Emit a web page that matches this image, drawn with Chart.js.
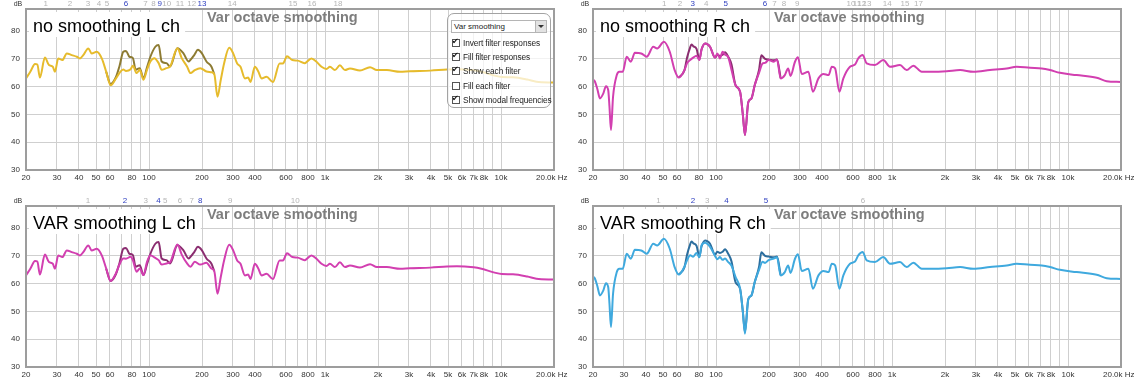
<!DOCTYPE html>
<html>
<head>
<meta charset="utf-8">
<script src="https://cdn.jsdelivr.net/npm/chart.js@4.4.0/dist/chart.umd.min.js"></script>
<style>
body { margin: 0; background: #fff; width: 1134px; height: 382px; overflow: hidden; position: relative; font-family: "Liberation Sans", Arial, sans-serif; }
canvas { position: absolute; }
#tl { left: 0; top: 0; }
#tr { left: 567px; top: 0; }
#bl { left: 0; top: 190px; }
#br { left: 567px; top: 190px; }
#filt { position: absolute; left: 447px; top: 13px; width: 102px; height: 93px; border: 1.5px solid #a3a3a3; border-radius: 7px; background: rgba(255,255,255,0.72); font-size: 8.3px; color: #222; }
#filt .sel { position: absolute; left: 3px; top: 6px; width: 96px; height: 13px; border: 1px solid #b5b5b5; background: #fff; line-height: 12px; padding-left: 2px; box-sizing: border-box; font-size: 8px; }
#filt .arr { position: absolute; right: 0; top: 0; width: 10px; height: 11px; background: #e2e2e2; border-left: 1px solid #b5b5b5; }
#filt .arr::after { content: ''; position: absolute; left: 2px; top: 4px; border-left: 3px solid transparent; border-right: 3px solid transparent; border-top: 3px solid #333; }
#filt .row { position: absolute; left: 4px; height: 10px; line-height: 10px; white-space: nowrap; letter-spacing: -0.1px; }
#filt .cb { display: inline-block; width: 6px; height: 6px; border: 1px solid #555; background: #fff; margin-right: 3px; vertical-align: -1px; position: relative; }
#filt .cb.on::after { content: '\2714'; position: absolute; left: -1px; top: -3px; font-size: 8px; line-height: 10px; color: #111; font-family: "DejaVu Sans", sans-serif; }
</style>
</head>
<body>
<canvas id="tl" width="580" height="190"></canvas>
<canvas id="tr" width="567" height="190"></canvas>
<canvas id="bl" width="580" height="192"></canvas>
<canvas id="br" width="567" height="192"></canvas>

<div id="filt">
  <div class="sel">Var smoothing<span class="arr"></span></div>
  <div class="row" style="top:24px"><span class="cb on"></span>Invert filter responses</div>
  <div class="row" style="top:38px"><span class="cb on"></span>Fill filter responses</div>
  <div class="row" style="top:52px"><span class="cb on"></span>Show each filter</div>
  <div class="row" style="top:66.5px"><span class="cb"></span>Fill each filter</div>
  <div class="row" style="top:80.5px"><span class="cb on"></span>Show modal frequencies</div>
</div>

<script>
// ejes
const xGrid = [20, 30, 40, 50, 60, 70, 80, 90, 100, 200, 300, 400, 500, 600, 700, 800, 900,
    1000, 2000, 3000, 4000, 5000, 6000, 7000, 8000, 9000, 10000, 20000];
const xLabelVals = [20, 30, 40, 50, 60, 80, 100, 200, 300, 400, 600, 800, 1000, 2000, 3000, 4000, 5000, 6000, 7000, 8000, 10000, 20000];
const xLabelTxt = ['20', '30', '40', '50', '60', '80', '100', '200', '300', '400', '600', '800', '1k', '2k', '3k', '4k', '5k', '6k', '7k', '8k', '10k', '20.0k Hz'];
const yTicks = [30, 40, 50, 60, 70, 80];

// canal L (Hz / dB)
const freqL = [
    20, 21.2, 22.5, 23.2, 24.0, 25.6, 27.0, 28.4, 29.2, 30.5,
    32.2, 34.1, 36.4, 38.9, 40.5, 42.3, 45.2, 47.2, 50.5, 53.9,
    57.1, 60.5, 64.9, 68, 71.4, 74, 78.6, 81, 85, 88.6,
    93, 97.4, 101.8, 107.2, 113.4, 118, 125.5, 131.8, 145, 153.4,
    164.5, 172, 182, 195.5, 212, 226, 235, 245, 255.6, 267,
    285.6, 300.8, 316.8, 331, 351, 366, 377, 399.5, 417, 436,
    465, 506, 552, 577, 608, 652, 700, 766, 837, 894,
    955, 1020, 1066, 1138, 1215, 1298, 1386, 1580, 1802, 1970,
    2245, 2670, 3030, 3968, 4933, 5622, 6990, 7640, 9200, 10100,
    11700, 14100, 15900, 20000
];
const noSmL = [
    63.0, 65.5, 68.2, 68.0, 63.3, 70.5, 67.8, 67.2, 65.4, 70.2,
    69.6, 72.0, 71.4, 70.8, 70.2, 71.4, 73.8, 72.0, 72.6, 70.2,
    65.4, 60.5, 63.0, 65.0, 66.2, 65.7, 66.3, 67.6, 64.9, 66.1,
    62.5, 66.1, 69.1, 70.3, 68.5, 66.1, 66.7, 67.3, 73.9, 70.3,
    67.3, 64.9, 66.0, 66.7, 65.5, 65.2, 64.5, 56.4, 62.4, 68.4,
    74.0, 72.0, 68.4, 67.2, 63.0, 63.3, 61.7, 67.2, 65.6, 63.0,
    63.6, 61.7, 68.4, 68.4, 71.0, 69.6, 69.4, 68.5, 70.2, 69.0,
    67.2, 66.4, 67.2, 66.0, 67.7, 66.0, 66.6, 65.8, 67.0, 66.0,
    66.0, 65.4, 65.6, 65.8, 66.2, 66.3, 65.9, 65.5, 64.0, 63.5,
    63.4, 62.6, 61.8, 61.5
];
const varL = [
    63.0, 65.5, 68.2, 68.0, 63.3, 70.5, 67.8, 67.2, 65.4, 70.2,
    69.6, 72.0, 71.4, 70.8, 70.2, 71.4, 73.8, 72.0, 72.6, 70.2,
    65.5, 61.0, 63.8, 67.0, 69.1, 69.0, 69.7, 68.4, 64.3, 65.5,
    63.1, 67.9, 70.3, 69.5, 68.5, 66.9, 67.3, 67.8, 74.1, 70.5,
    67.3, 66.1, 67.9, 66.9, 67.6, 65.5, 64.5, 56.4, 62.4, 68.4,
    74.0, 72.0, 68.4, 67.2, 63.0, 63.3, 61.7, 67.2, 65.6, 63.0,
    63.6, 61.7, 68.4, 68.4, 71.0, 69.6, 69.4, 68.5, 70.2, 69.0,
    67.2, 66.4, 67.2, 66.0, 67.7, 66.0, 66.6, 65.8, 67.0, 66.0,
    66.0, 65.4, 65.6, 65.8, 66.2, 66.3, 65.9, 65.5, 64.0, 63.5,
    63.4, 62.6, 61.8, 61.5
];
const freqLd = [57.1, 60.5, 64.9, 68, 71.4, 74, 77.4, 81, 84, 88.6, 93, 97.4, 101.8, 108.6,
    113.4, 118, 125.5, 131.8, 145, 156.6, 167.7, 172, 181, 189.6, 199.4, 212, 226, 235];
const darkL = [65.4, 61.0, 63.5, 67.5, 72.6, 72.9, 70.8, 70.3, 66.1, 66.7, 63.1, 67.0, 70.8, 74.4,
    75.0, 69.1, 68.5, 67.3, 73.9, 72.1, 69.1, 69.7, 71.5, 73.3, 72.1, 69.1, 67.3, 64.5];

// canal R (Hz / dB)
const freqR = [
    20, 20.5, 21.2, 21.9, 22.9, 23.7, 24.4, 24.8, 25.3, 26.0,
    27.3, 28.2, 29.5, 31.1, 32.8, 34.6, 37.6, 40.4, 44.0, 46.3,
    50.6, 54.6, 58.2, 61.5, 66.2, 68.5, 71.3, 74.2, 77.5, 80.4,
    82.8, 86.7, 92.5, 98.7, 101.7, 105.3, 109, 112.5, 117, 122.5,
    129, 137, 142, 146, 152.5, 159, 166, 175.5, 184, 190,
    199, 213, 222, 233, 246, 257, 265, 281, 292, 307,
    335, 355, 382, 408, 436, 455, 475, 502, 529, 577,
    616, 643, 681, 718, 800, 892, 974, 1110, 1211, 1321,
    1475, 1680, 2046, 2434, 2896, 3600, 4485, 5110, 6080, 7090,
    7910, 9000, 11200, 14550, 16590, 20000
];
const noSmR = [
    62.6, 61.9, 59.0, 55.8, 57.6, 60.2, 58.8, 53.0, 44.4, 56.4,
    64.2, 65.4, 65.4, 70.8, 69.0, 72.2, 72.0, 70.8, 74.4, 73.8,
    76.2, 72.6, 66.0, 63.3, 66.0, 68.5, 69.6, 70.5, 71.2, 69.6,
    73.5, 75.6, 74.4, 70.5, 72.0, 70.2, 72.6, 71.5, 70.8, 66.0,
    60.6, 58.2, 50.0, 42.6, 54.4, 55.8, 60.6, 65.0, 68.4, 68.6,
    69.6, 69.0, 69.8, 63.0, 64.2, 66.6, 63.9, 69.0, 70.6, 64.6,
    65.4, 58.2, 63.0, 64.6, 64.2, 67.2, 66.6, 58.2, 63.0, 67.2,
    68.0, 70.2, 71.4, 68.4, 67.8, 69.6, 67.2, 67.8, 66.0, 67.6,
    65.4, 65.4, 65.6, 66.0, 65.4, 66.0, 66.6, 67.2, 66.8, 66.6,
    66.0, 65.0, 64.2, 63.2, 62.0, 61.7
];
const varR = [
    62.6, 61.9, 59.0, 55.8, 57.6, 60.2, 58.8, 53.0, 44.4, 56.4,
    64.2, 65.4, 65.4, 70.8, 69.0, 72.2, 72.0, 70.8, 74.4, 73.8,
    76.2, 72.6, 66.0, 63.3, 66.2, 68.5, 70.3, 69.7, 71.1, 69.5,
    73.9, 74.8, 73.3, 70.0, 68.8, 69.6, 68.6, 69.1, 67.9, 66.5,
    62.5, 58.2, 50.0, 42.0, 54.4, 55.8, 60.6, 65.0, 67.9, 67.5,
    68.5, 69.1, 69.5, 63.0, 64.2, 66.6, 63.9, 69.0, 70.6, 64.6,
    65.4, 58.2, 63.0, 64.6, 64.2, 67.2, 66.6, 58.2, 63.0, 67.2,
    68.0, 70.2, 71.4, 68.4, 67.8, 69.6, 67.2, 67.8, 66.0, 67.6,
    65.4, 65.4, 65.6, 66.0, 65.4, 66.0, 66.6, 67.2, 66.8, 66.6,
    66.0, 65.0, 64.2, 63.2, 62.0, 61.7
];
const freqRd = [61.5, 66.2, 68.5, 71.3, 72.5, 74.2, 77.5, 80.4, 82.8, 86.7, 92.5, 98.7, 101.7, 105.3,
    109, 112.5, 117, 122.5, 129, 137, 142, 146, 152.5, 159, 166, 175.5, 181, 184, 190, 199, 213, 222, 233];
const darkR = [63.3, 66.0, 70.5, 74.2, 75.2, 74.6, 73.6, 69.8, 73.5, 75.6, 74.4, 70.5, 71.5, 71.1,
    71.5, 72.4, 70.9, 68.0, 60.6, 58.2, 50.0, 42.6, 54.4, 55.8, 60.6, 66.0, 71.3, 71.0, 70.0, 69.8, 69.5, 69.8, 63.0];

// frecuencias modales (arriba del grafico)
const modeTL = [25.9, 35.6, 45.0, 52.0, 57.7, 74.0, 95.5, 106, 115, 126, 150, 175, 200, 297, 658, 843, 1186];
const modeNumTL = ['1', '2', '3', '4', '5', '6', '7', '8', '9', '10', '11', '12', '13', '14', '15', '16', '18'];
const modeBlueTL = ['6', '9', '13'];
const modeTR = [50.7, 62.5, 73.7, 87.9, 113.7, 189.8, 214.5, 243.5, 289, 584, 632, 674, 720, 939, 1186, 1414];
const modeNumTR = ['1', '2', '3', '4', '5', '6', '7', '8', '9', '10', '11', '12', '13', '14', '15', '17'];
const modeBlueTR = ['3', '5', '6'];
const modeBL = [45.0, 73.0, 95.8, 113, 123.5, 150, 175, 195.5, 289, 678];
const modeNumBL = ['1', '2', '3', '4', '5', '6', '7', '8', '9', '10'];
const modeBlueBL = ['2', '4', '8'];
const modeBR = [47.1, 74.0, 89.0, 114.5, 192.5, 683];
const modeNumBR = ['1', '2', '3', '4', '5', '6'];
const modeBlueBR = ['2', '4', '5'];

Chart.defaults.font.family = '"Liberation Sans", Arial, sans-serif';

const pts = (fs, vs) => fs.map((f, i) => ({ x: f, y: vs[i] }));
const lastIdx = xLabelVals.length - 1;

// marco, titulo, etiqueta, modos y la ultima etiqueta del eje x
const rewDecor = {
    id: 'rewDecor',
    afterDraw(chart, args, opts) {
        const { ctx, chartArea: a, scales: { x } } = chart;
        ctx.save();
        ctx.strokeStyle = '#9d9d9d';
        ctx.lineWidth = 2;
        ctx.strokeRect(a.left, a.top, a.right - a.left, a.bottom - a.top);

        ctx.fillStyle = '#333';
        ctx.font = '7px "Liberation Sans", Arial';
        ctx.textAlign = 'center';
        ctx.textBaseline = 'middle';
        ctx.fillText('dB', a.left - 8, a.top - 5);

        ctx.font = '8px "Liberation Sans", Arial';
        opts.modes.forEach((f, i) => {
            const n = opts.nums[i];
            ctx.fillStyle = opts.blue.includes(n) ? '#3040c0' : '#b5b5b5';
            ctx.fillText(n, x.getPixelForValue(f), a.top - 5);
        });

        // "20.0k Hz" empieza un poco antes del borde derecho
        ctx.fillStyle = '#333';
        ctx.textAlign = 'left';
        ctx.fillText(xLabelTxt[lastIdx], x.getPixelForValue(xLabelVals[lastIdx]) - 18, a.bottom + 8);

        ctx.fillStyle = '#7e7e7e';
        ctx.font = 'bold 14.5px "Liberation Sans", Arial';
        ctx.fillText('Var octave smoothing', a.left + 181, a.top + 9);

        ctx.font = '18px "Liberation Sans", Arial';
        const w = ctx.measureText(opts.label).width;
        ctx.fillStyle = '#fff';
        ctx.fillRect(a.left + 3, a.top + 3, w + 9, 25);
        ctx.fillStyle = '#000';
        ctx.textBaseline = 'alphabetic';
        ctx.fillText(opts.label, a.left + 7, a.top + 23);
        ctx.restore();
    }
};

function makePanel(id, padTop, padRight, axisH, light, lightColor, dark, darkColor, label, modes, nums, blue) {
    const ctx = document.getElementById(id).getContext('2d');
    return new Chart(ctx, {
        type: 'line',
        data: {
            datasets: [
                // la clara primero: queda encima de la oscura
                { data: light, borderColor: lightColor, borderWidth: 2, pointRadius: 0, cubicInterpolationMode: 'monotone', fill: false },
                { data: dark, borderColor: darkColor, borderWidth: 2, pointRadius: 0, cubicInterpolationMode: 'monotone', fill: false }
            ]
        },
        options: {
            responsive: false,
            animation: false,
            layout: { padding: { left: 0, right: padRight, top: padTop, bottom: 0 } },
            plugins: {
                legend: { display: false },
                tooltip: { enabled: false },
                rewDecor: { label: label, modes: modes, nums: nums, blue: blue }
            },
            scales: {
                x: {
                    type: 'logarithmic',
                    min: 20,
                    max: 20000,
                    afterBuildTicks: s => { s.ticks = xGrid.map(v => ({ value: v })); },
                    afterFit: s => { s.height = axisH; s.paddingLeft = 0; s.paddingRight = 0; },
                    ticks: {
                        autoSkip: false, maxRotation: 0, minRotation: 0, padding: 3,
                        font: { size: 8 }, color: '#333',
                        callback: v => {
                            const i = xLabelVals.indexOf(v);
                            return (i < 0 || i === lastIdx) ? '' : xLabelTxt[i];
                        }
                    },
                    grid: { color: '#cfcfcf', drawTicks: false },
                    border: { display: false }
                },
                y: {
                    min: 30,
                    max: 88,
                    afterBuildTicks: s => { s.ticks = yTicks.map(v => ({ value: v })); },
                    afterFit: s => { s.width = 26; s.paddingTop = 0; s.paddingBottom = 0; },
                    ticks: { padding: 6, font: { size: 8 }, color: '#333' },
                    grid: { color: '#cfcfcf', drawTicks: false },
                    border: { display: false }
                }
            }
        },
        plugins: [rewDecor]
    });
}

makePanel('tl', 9, 26, 20, pts(freqL, noSmL), '#e6bb2c', pts(freqLd, darkL), '#8d7b32',
    'no smoothing L ch', modeTL, modeNumTL, modeBlueTL);
makePanel('tr', 9, 13, 20, pts(freqR, noSmR), '#d23fb0', pts(freqRd, darkR), '#8b2d70',
    'no smoothing R ch', modeTR, modeNumTR, modeBlueTR);
makePanel('bl', 16, 26, 15, pts(freqL, varL), '#d23fb0', pts(freqLd, darkL), '#8b2d70',
    'VAR smoothing L ch', modeBL, modeNumBL, modeBlueBL);
makePanel('br', 16, 13, 15, pts(freqR, varR), '#3fa9de', pts(freqRd, darkR), '#2c6e9e',
    'VAR smoothing R ch', modeBR, modeNumBR, modeBlueBR);
</script>
</body>
</html>
